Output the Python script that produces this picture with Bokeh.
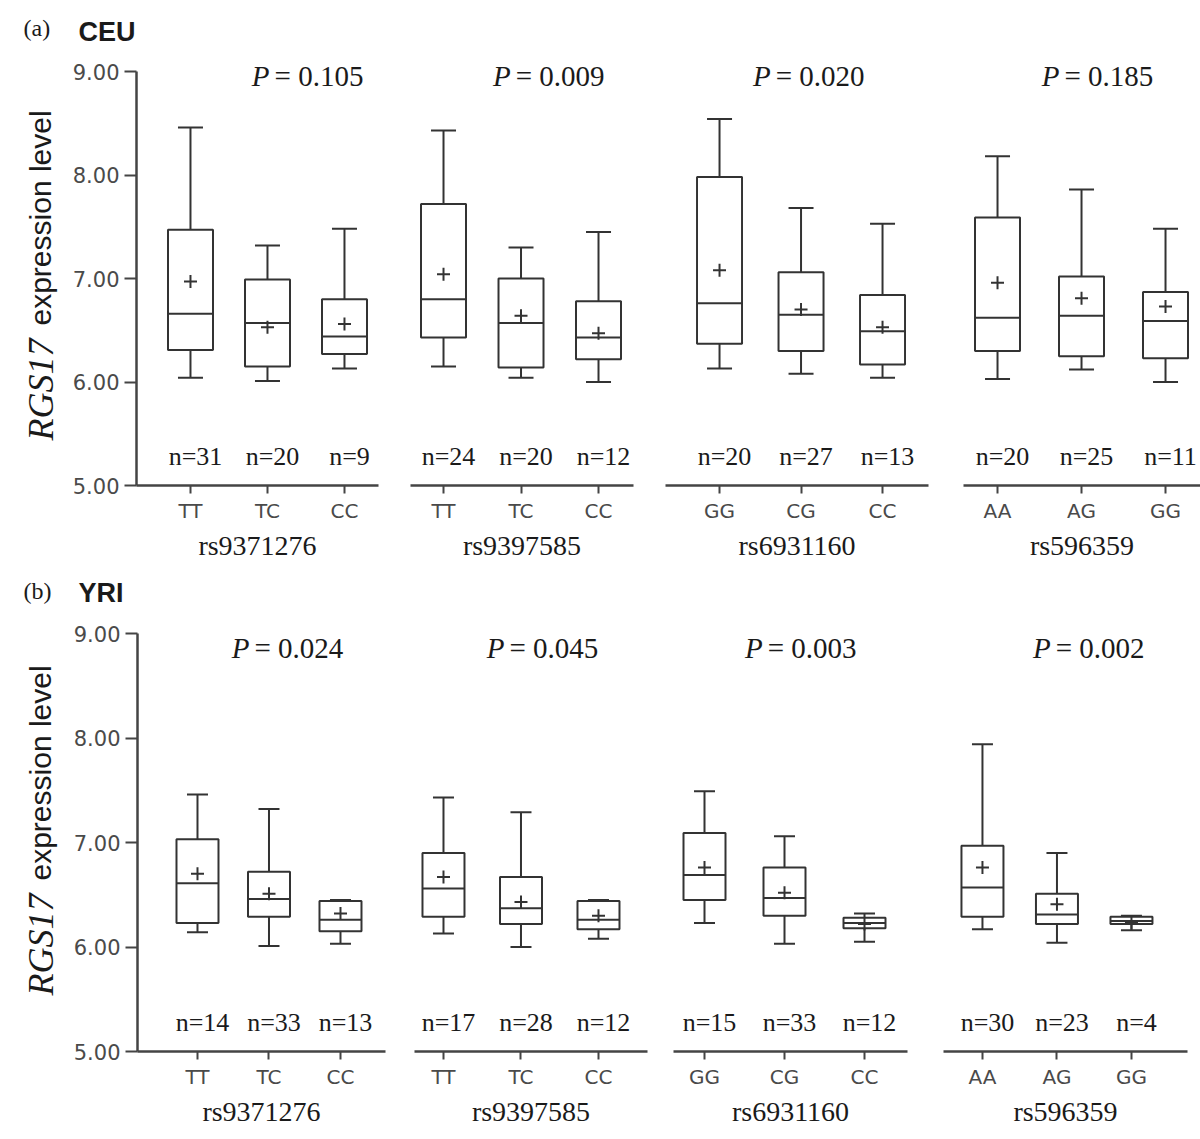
import numpy as np
from bokeh.plotting import figure
from bokeh.models import Range1d, FixedTicker, Label, ColumnDataSource, NumeralTickFormatter
from bokeh.layouts import row, column
from bokeh.embed import file_html
from bokeh.resources import INLINE
from bokeh.core.properties import value

# ---------------- data ----------------
snps = ["rs9371276", "rs9397585", "rs6931160", "rs596359"]
genotypes = [["TT", "TC", "CC"], ["TT", "TC", "CC"], ["GG", "CG", "CC"], ["AA", "AG", "GG"]]

# (a) CEU
ceu_p = ["0.105", "0.009", "0.020", "0.185"]
ceu_n = [31, 20, 9, 24, 20, 12, 20, 27, 13, 20, 25, 11]
ceu_low = [6.04, 6.01, 6.13, 6.15, 6.04, 6.00, 6.13, 6.08, 6.04, 6.03, 6.12, 6.00]
ceu_q1 = [6.31, 6.15, 6.27, 6.43, 6.14, 6.22, 6.37, 6.30, 6.17, 6.30, 6.25, 6.23]
ceu_median = [6.66, 6.57, 6.44, 6.80, 6.57, 6.43, 6.76, 6.65, 6.49, 6.62, 6.64, 6.59]
ceu_q3 = [7.47, 6.99, 6.80, 7.72, 7.00, 6.78, 7.98, 7.06, 6.84, 7.59, 7.02, 6.87]
ceu_high = [8.46, 7.32, 7.48, 8.43, 7.30, 7.45, 8.54, 7.68, 7.53, 8.18, 7.86, 7.48]
ceu_mean = [6.97, 6.53, 6.56, 7.04, 6.64, 6.47, 7.08, 6.70, 6.53, 6.96, 6.81, 6.73]

# (b) YRI
yri_p = ["0.024", "0.045", "0.003", "0.002"]
yri_n = [14, 33, 13, 17, 28, 12, 15, 33, 12, 30, 23, 4]
yri_low = [6.14, 6.01, 6.03, 6.13, 6.00, 6.08, 6.23, 6.03, 6.05, 6.17, 6.04, 6.16]
yri_q1 = [6.23, 6.29, 6.15, 6.29, 6.22, 6.17, 6.45, 6.30, 6.18, 6.29, 6.22, 6.22]
yri_median = [6.61, 6.46, 6.26, 6.56, 6.37, 6.26, 6.69, 6.47, 6.23, 6.57, 6.31, 6.25]
yri_q3 = [7.03, 6.72, 6.44, 6.90, 6.67, 6.44, 7.09, 6.76, 6.28, 6.97, 6.51, 6.29]
yri_high = [7.46, 7.32, 6.45, 7.43, 7.29, 6.45, 7.49, 7.06, 6.32, 7.94, 6.90, 6.30]
yri_mean = [6.70, 6.51, 6.32, 6.67, 6.43, 6.30, 6.76, 6.52, 6.22, 6.76, 6.41, 6.23]

y_ticks = [5, 6, 7, 8, 9]

# ---------------- layout / style ----------------
LINE = "#333333"
AXIS = "#444444"
TICKLBL = "#4a4a4a"
TXT = "#1a1a1a"
PAGE_W = 1200
LABEL_W = 60

LAYOUT_A = dict(
    header_h=48, tag_y=27, pop_y=31,
    frame_h=437, px_per_unit=103.5, bottom=85, box_px=45, cap_px=25, p_y=8.96, n_y=5.28,
    ylab_x=40, ylab_start=392, ylab_gap=115,
    groups=[
        dict(left=76, frame_w=242, right=16, lo=-0.701, spacing=77.0, p_x=1.04),
        dict(left=16, frame_w=223, right=16, lo=-0.426, spacing=77.5, p_x=0.88),
        dict(left=16, frame_w=263, right=17, lo=-0.663, spacing=81.5, p_x=0.64),
        dict(left=18, frame_w=237, right=0, lo=-0.405, spacing=84.0, p_x=0.75),
    ])
LAYOUT_B = dict(
    header_h=48, tag_y=20, pop_y=22,
    frame_h=433, px_per_unit=104.5, bottom=75, box_px=42, cap_px=21, p_y=8.86, n_y=5.28,
    ylab_x=40, ylab_start=377, ylab_gap=115,
    groups=[
        dict(left=77, frame_w=248, right=14, lo=-0.839, spacing=71.5, p_x=0.74),
        dict(left=15, frame_w=233, right=13, lo=-0.374, spacing=77.5, p_x=0.80),
        dict(left=13, frame_w=234, right=18, lo=-0.3875, spacing=80.0, p_x=0.74),
        dict(left=18, frame_w=244, right=13, lo=-0.523, spacing=74.5, p_x=0.93),
    ])


def blank_fig(w, h):
    f = figure(frame_width=w, frame_height=h, x_range=Range1d(0, w), y_range=Range1d(h, 0),
               min_border=0, output_backend="svg", toolbar_location=None,
               x_axis_location=None, y_axis_location=None,
               background_fill_color="white", border_fill_color="white")
    f.outline_line_color = None
    f.grid.visible = False
    return f


def build_header(tag, pop, lay):
    h = blank_fig(PAGE_W, lay["header_h"])
    h.text(x=[23], y=[lay["tag_y"]], text=[tag], text_font=value("Liberation Serif"),
           text_font_size="24px", text_color=TXT, text_align="left", text_baseline="middle")
    h.text(x=[78], y=[lay["pop_y"]], text=[pop], text_font=value("Liberation Sans"),
           text_font_style="bold", text_font_size="27px", text_color=TXT,
           text_align="left", text_baseline="middle")
    return h


def build_ylabel(lay):
    f = blank_fig(LABEL_W, lay["frame_h"] + lay["bottom"])
    f.text(x=[lay["ylab_x"]], y=[lay["ylab_start"]], text=["RGS17"], angle=np.pi / 2,
           text_font=value("Liberation Serif"), text_font_style="italic", text_font_size="36px",
           text_color=TXT, text_align="left", text_baseline="alphabetic")
    f.text(x=[lay["ylab_x"]], y=[lay["ylab_start"] - lay["ylab_gap"]], text=["expression level"],
           angle=np.pi / 2, text_font=value("Liberation Sans"), text_font_size="30px",
           text_color=TXT, text_align="left", text_baseline="alphabetic")
    return f


def build_panel(low, q1, med, q3, high, mean, ns, pvals, lay):
    figs = [build_ylabel(lay)]
    y_end = 5 + lay["frame_h"] / lay["px_per_unit"]
    for g in range(4):
        gl = lay["groups"][g]
        lo, sp, fw = gl["lo"], gl["spacing"], gl["frame_w"]
        hi = lo + fw / sp
        first = g == 0
        p = figure(frame_width=fw, frame_height=lay["frame_h"],
                   x_range=Range1d(lo, hi), y_range=Range1d(5, y_end),
                   min_border_left=gl["left"], min_border_right=gl["right"],
                   min_border_top=0, min_border_bottom=lay["bottom"],
                   output_backend="svg", toolbar_location=None,
                   y_axis_location="left" if first else None,
                   background_fill_color="white", border_fill_color="white")
        p.outline_line_color = None
        p.grid.visible = False

        s = slice(3 * g, 3 * g + 3)
        x = np.arange(3, dtype=float)
        bw = lay["box_px"] / sp
        cw = lay["cap_px"] / sp
        src = ColumnDataSource(dict(
            x=x, xl=x - bw / 2, xr=x + bw / 2, cl=x - cw / 2, cr=x + cw / 2,
            low=low[s], q1=q1[s], med=med[s], q3=q3[s], high=high[s], mean=mean[s],
            ny=[lay["n_y"]] * 3, ntext=["n=%d" % v for v in ns[s]]))

        # whiskers and caps
        p.segment(x0="x", y0="q3", x1="x", y1="high", source=src, line_color=LINE, line_width=2)
        p.segment(x0="x", y0="q1", x1="x", y1="low", source=src, line_color=LINE, line_width=2)
        p.segment(x0="cl", y0="high", x1="cr", y1="high", source=src, line_color=LINE, line_width=2)
        p.segment(x0="cl", y0="low", x1="cr", y1="low", source=src, line_color=LINE, line_width=2)
        # boxes and medians
        p.quad(left="xl", right="xr", bottom="q1", top="q3", source=src,
               fill_color="white", line_color=LINE, line_width=2)
        p.segment(x0="xl", y0="med", x1="xr", y1="med", source=src, line_color=LINE, line_width=2)
        # means
        p.scatter(x="x", y="mean", source=src, marker="cross", size=13,
                  line_color=LINE, line_width=2)
        # n labels
        p.text(x="x", y="ny", text="ntext", source=src, x_offset=5,
               text_font=value("Liberation Serif"), text_font_size="26px",
               text_color=TXT, text_align="center", text_baseline="middle")

        # P value
        p.add_layout(Label(x=gl["p_x"], y=lay["p_y"], text="P", text_font="Liberation Serif",
                           text_font_style="italic", text_font_size="29px", text_color=TXT,
                           text_align="right", text_baseline="middle", x_offset=-1))
        p.add_layout(Label(x=gl["p_x"], y=lay["p_y"], text="= " + pvals[g], text_font="Liberation Serif",
                           text_font_size="29px", text_color=TXT,
                           text_align="left", text_baseline="middle", x_offset=4))

        # x axis
        xa = p.xaxis[0]
        xa.ticker = FixedTicker(ticks=[0, 1, 2])
        xa.major_label_overrides = {i: genotypes[g][i] for i in range(3)}
        xa.axis_label = snps[g]
        xa.axis_label_text_font = "Liberation Serif"
        xa.axis_label_text_font_style = "normal"
        xa.axis_label_text_font_size = "28px"
        xa.axis_label_text_color = TXT
        xa.axis_label_standoff = 4
        xa.major_label_text_font = "DejaVu Sans"
        xa.major_label_text_font_size = "20px"
        xa.major_label_text_color = TICKLBL
        xa.major_label_standoff = 5
        xa.axis_line_color = AXIS
        xa.axis_line_width = 2.5
        xa.major_tick_line_color = AXIS
        xa.major_tick_line_width = 2
        xa.major_tick_out = 8
        xa.major_tick_in = 0
        xa.minor_tick_line_color = None

        if first:
            ya = p.yaxis[0]
            ya.ticker = FixedTicker(ticks=y_ticks)
            ya.formatter = NumeralTickFormatter(format="0.00")
            ya.bounds = (5, 9)
            ya.major_label_text_font = "DejaVu Sans"
            ya.major_label_text_font_size = "21px"
            ya.major_label_text_color = TICKLBL
            ya.major_label_standoff = 5
            ya.axis_line_color = AXIS
            ya.axis_line_width = 2.5
            ya.major_tick_line_color = AXIS
            ya.major_tick_line_width = 2
            ya.major_tick_out = 12
            ya.major_tick_in = 0
            ya.minor_tick_line_color = None
            ya.axis_label = None
        figs.append(p)
    return row(*figs, spacing=0)


header_a = build_header("(a)", "CEU", LAYOUT_A)
row_a = build_panel(ceu_low, ceu_q1, ceu_median, ceu_q3, ceu_high, ceu_mean, ceu_n, ceu_p, LAYOUT_A)
header_b = build_header("(b)", "YRI", LAYOUT_B)
row_b = build_panel(yri_low, yri_q1, yri_median, yri_q3, yri_high, yri_mean, yri_n, yri_p, LAYOUT_B)
page = column(header_a, row_a, header_b, row_b, spacing=0)

with open("out.html", "w") as f:
    f.write(file_html(page, INLINE, title="RGS17 expression by genotype"))
